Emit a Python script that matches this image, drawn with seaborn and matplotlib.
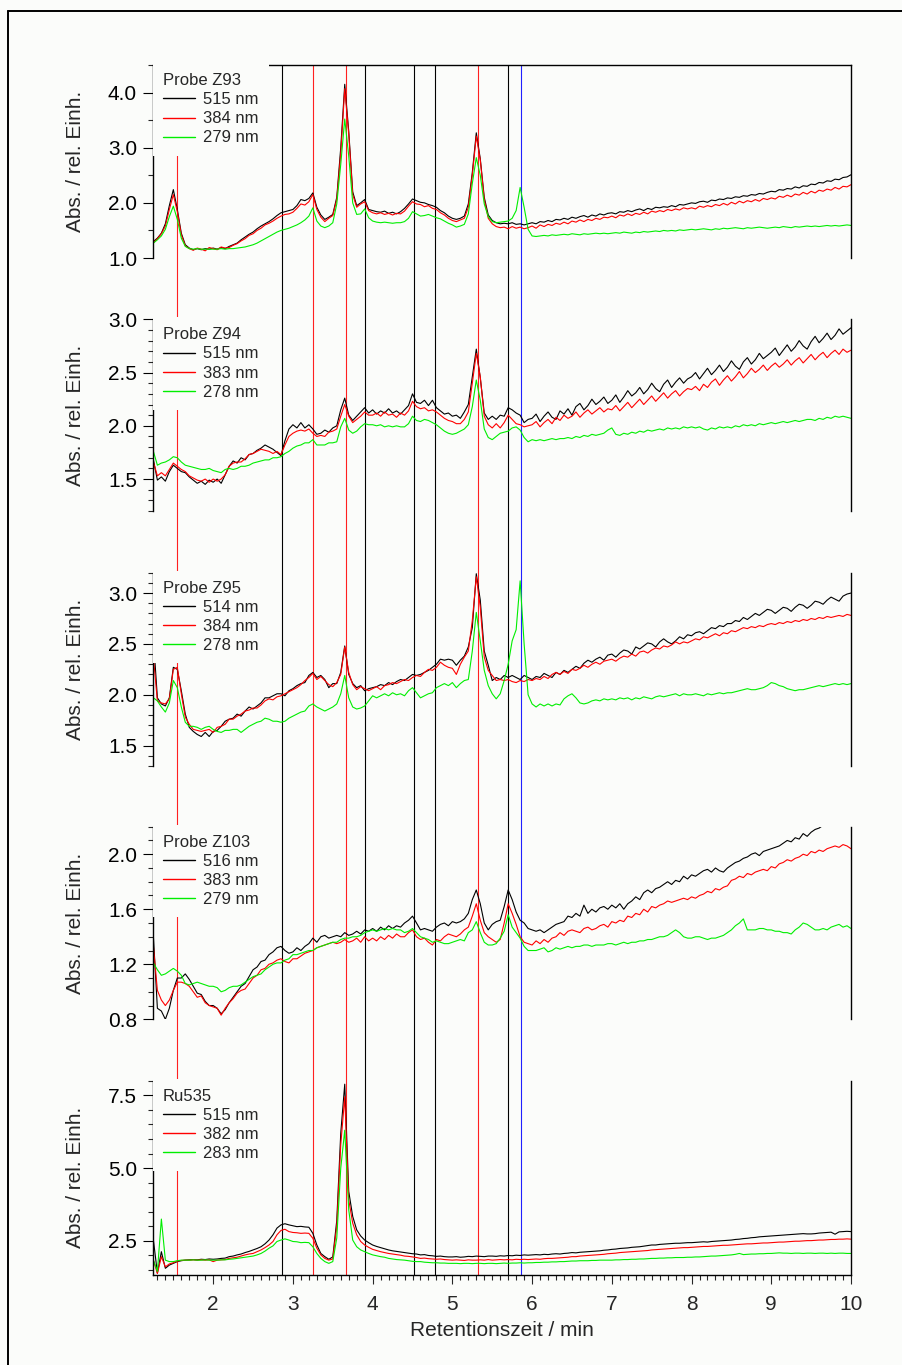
import numpy as np
import matplotlib
matplotlib.use("Agg")
import matplotlib.pyplot as plt
import seaborn as sns
from matplotlib.lines import Line2D
from matplotlib.transforms import blended_transform_factory
from matplotlib.ticker import MultipleLocator, FormatStrFormatter

sns.set_style("ticks")
plt.rcParams["font.family"] = ["Liberation Sans", "DejaVu Sans"]

# ---------------------------------------------------------------- data
# retention time axis, 0.05 min sampling
zeit = np.round(np.arange(1.25, 10.0001, 0.05), 2)

# Probe Z93
z93_515 = [
    1.30, 1.36, 1.45, 1.62, 1.95, 2.24, 1.88, 1.45, 1.24, 1.18, 1.15, 1.17, 1.15, 1.17, 1.16,
    1.18, 1.16, 1.19, 1.17, 1.21, 1.24, 1.27, 1.33, 1.38, 1.43, 1.47, 1.53, 1.58, 1.62, 1.66, 1.71, 1.77, 1.82, 1.84, 1.86,
    1.88, 1.95, 2.06, 2.04, 2.08, 2.18, 1.92, 1.78, 1.70, 1.74, 1.79, 2.10, 3.00, 4.15, 3.30, 2.20, 1.95, 2.00, 2.06, 1.88,
    1.86, 1.84, 1.83, 1.85, 1.81, 1.83, 1.80, 1.84, 1.90, 1.98, 2.07, 2.04, 2.01, 2.00, 1.97, 1.95, 1.92, 1.86, 1.82, 1.76,
    1.72, 1.70, 1.72, 1.76, 1.98, 2.55, 3.27, 2.80, 2.10, 1.78, 1.68, 1.64, 1.62, 1.63, 1.62, 1.64, 1.61, 1.62, 1.60, 1.62,
    1.64, 1.62, 1.66, 1.65, 1.68, 1.66, 1.70, 1.69, 1.72, 1.70, 1.74, 1.72, 1.75, 1.77, 1.74, 1.78, 1.76, 1.80, 1.78, 1.81,
    1.82, 1.80, 1.84, 1.83, 1.86, 1.84, 1.87, 1.89, 1.86, 1.90, 1.88, 1.92, 1.91, 1.93, 1.92, 1.95, 1.93, 1.97, 1.96, 1.98,
    2.00, 1.99, 2.02, 2.03, 2.01, 2.05, 2.04, 2.07, 2.06, 2.09, 2.08, 2.11, 2.10, 2.13, 2.12, 2.15, 2.14, 2.17, 2.16, 2.19,
    2.21, 2.20, 2.24, 2.23, 2.26, 2.25, 2.29, 2.27, 2.31, 2.30, 2.34, 2.33, 2.37, 2.36, 2.40, 2.39, 2.43, 2.42, 2.46, 2.47,
    2.51]
z93_384 = [
    1.28, 1.35, 1.44, 1.58, 1.88, 2.15, 1.84, 1.42, 1.22, 1.17, 1.14, 1.18, 1.16, 1.13, 1.19,
    1.17, 1.15, 1.20, 1.18, 1.19, 1.23, 1.26, 1.31, 1.35, 1.41, 1.44, 1.50, 1.54, 1.60, 1.63, 1.67, 1.72, 1.76, 1.79, 1.80,
    1.83, 1.90, 1.98, 1.96, 2.02, 2.15, 1.88, 1.74, 1.66, 1.72, 1.77, 2.06, 2.90, 4.07, 3.25, 2.15, 1.92, 1.98, 2.02, 1.86,
    1.82, 1.80, 1.82, 1.79, 1.81, 1.78, 1.81, 1.80, 1.85, 1.94, 2.02, 1.98, 1.97, 1.93, 1.95, 1.90, 1.88, 1.82, 1.78, 1.72,
    1.68, 1.66, 1.69, 1.72, 1.92, 2.50, 3.21, 2.78, 2.06, 1.72, 1.62, 1.57, 1.55, 1.56, 1.53, 1.57, 1.54, 1.56, 1.53, 1.55,
    1.58, 1.54, 1.60, 1.57, 1.61, 1.59, 1.63, 1.61, 1.65, 1.62, 1.67, 1.65, 1.69, 1.66, 1.70, 1.68, 1.72, 1.70, 1.74, 1.73,
    1.76, 1.73, 1.78, 1.76, 1.80, 1.77, 1.81, 1.79, 1.83, 1.80, 1.85, 1.83, 1.86, 1.84, 1.88, 1.86, 1.89, 1.87, 1.91, 1.89,
    1.91, 1.89, 1.94, 1.92, 1.95, 1.93, 1.97, 1.95, 1.99, 1.96, 2.01, 1.98, 2.03, 2.00, 2.04, 2.02, 2.06, 2.03, 2.08, 2.06,
    2.09, 2.07, 2.12, 2.10, 2.14, 2.11, 2.16, 2.14, 2.19, 2.16, 2.21, 2.18, 2.23, 2.21, 2.25, 2.23, 2.28, 2.25, 2.30, 2.29,
    2.33]
z93_279 = [
    1.27, 1.33, 1.40, 1.52, 1.75, 1.94, 1.70, 1.36, 1.21, 1.17, 1.16, 1.17, 1.16, 1.16, 1.16,
    1.16, 1.16, 1.17, 1.16, 1.17, 1.17, 1.18, 1.19, 1.20, 1.22, 1.24, 1.27, 1.31, 1.35, 1.39, 1.43, 1.47, 1.50, 1.52, 1.54,
    1.57, 1.60, 1.64, 1.69, 1.76, 1.91, 1.67, 1.58, 1.55, 1.58, 1.64, 1.98, 2.70, 3.52, 2.85, 2.00, 1.79, 1.80, 1.89, 1.73,
    1.67, 1.65, 1.64, 1.65, 1.64, 1.63, 1.64, 1.64, 1.66, 1.72, 1.84, 1.80, 1.76, 1.77, 1.79, 1.76, 1.73, 1.71, 1.67, 1.63,
    1.60, 1.56, 1.58, 1.61, 1.80, 2.35, 2.82, 2.50, 1.98, 1.75, 1.66, 1.64, 1.65, 1.66, 1.67, 1.72, 1.86, 2.28, 1.92, 1.52,
    1.40, 1.39, 1.40, 1.41, 1.40, 1.42, 1.41, 1.42, 1.43, 1.42, 1.44, 1.43, 1.42, 1.44, 1.43, 1.44, 1.45, 1.44, 1.45, 1.44,
    1.45, 1.46, 1.45, 1.47, 1.46, 1.45, 1.47, 1.46, 1.48, 1.47, 1.48, 1.49, 1.48, 1.50, 1.49, 1.50, 1.49, 1.51, 1.50, 1.51,
    1.52, 1.51, 1.52, 1.53, 1.52, 1.51, 1.53, 1.52, 1.54, 1.53, 1.54, 1.55, 1.54, 1.53, 1.55, 1.54, 1.55, 1.56, 1.55, 1.54,
    1.55, 1.56, 1.55, 1.57, 1.56, 1.55, 1.57, 1.56, 1.57, 1.58, 1.57, 1.58, 1.57, 1.58, 1.59, 1.58, 1.59, 1.58, 1.59, 1.60,
    1.59]

# Probe Z94
z94_515 = [
    1.68, 1.49, 1.52, 1.48, 1.57, 1.63, 1.60, 1.57, 1.56, 1.52, 1.49, 1.46, 1.48, 1.45, 1.49,
    1.47, 1.50, 1.46, 1.54, 1.62, 1.67, 1.65, 1.70, 1.68, 1.73, 1.74, 1.77, 1.79, 1.82, 1.80, 1.78, 1.75, 1.72, 1.86, 1.97,
    2.01, 1.98, 2.03, 1.98, 2.01, 1.97, 1.92, 1.93, 1.96, 1.94, 1.98, 2.00, 2.15, 2.26, 2.10, 2.05, 2.09, 2.13, 2.17, 2.12,
    2.15, 2.11, 2.14, 2.12, 2.16, 2.12, 2.14, 2.11, 2.15, 2.19, 2.30, 2.22, 2.21, 2.24, 2.19, 2.24, 2.17, 2.14, 2.11, 2.12,
    2.09, 2.10, 2.07, 2.13, 2.20, 2.46, 2.72, 2.45, 2.12, 2.06, 2.09, 2.06, 2.10, 2.09, 2.17, 2.15, 2.12, 2.10, 2.03, 2.06,
    2.07, 2.11, 2.04, 2.09, 2.13, 2.08, 2.06, 2.14, 2.11, 2.16, 2.10, 2.18, 2.21, 2.15, 2.19, 2.25, 2.20, 2.23, 2.27, 2.21,
    2.24, 2.29, 2.22, 2.27, 2.33, 2.28, 2.31, 2.36, 2.30, 2.34, 2.40, 2.35, 2.32, 2.39, 2.43, 2.36, 2.41, 2.45, 2.40, 2.44,
    2.46, 2.50, 2.44, 2.49, 2.54, 2.48, 2.52, 2.57, 2.51, 2.55, 2.61, 2.56, 2.53, 2.60, 2.64, 2.58, 2.62, 2.68, 2.63, 2.66,
    2.69, 2.73, 2.66, 2.71, 2.76, 2.70, 2.74, 2.80, 2.75, 2.72, 2.79, 2.84, 2.78, 2.82, 2.87, 2.81, 2.85, 2.91, 2.86, 2.89,
    2.92]
z94_383 = [
    1.66, 1.53, 1.56, 1.53, 1.59, 1.65, 1.62, 1.59, 1.57, 1.53, 1.51, 1.49, 1.48, 1.50, 1.47,
    1.50, 1.48, 1.50, 1.54, 1.62, 1.65, 1.66, 1.66, 1.69, 1.73, 1.74, 1.76, 1.78, 1.77, 1.76, 1.74, 1.76, 1.73, 1.82, 1.90,
    1.93, 1.95, 1.96, 1.95, 1.97, 1.93, 1.90, 1.91, 1.90, 1.94, 1.95, 1.97, 2.09, 2.20, 2.09, 2.03, 2.06, 2.09, 2.13, 2.10,
    2.10, 2.12, 2.09, 2.13, 2.10, 2.11, 2.08, 2.12, 2.10, 2.14, 2.23, 2.18, 2.16, 2.17, 2.14, 2.15, 2.13, 2.10, 2.07, 2.05,
    2.04, 2.02, 2.02, 2.06, 2.13, 2.40, 2.68, 2.46, 2.09, 2.01, 1.98, 2.02, 1.98, 2.03, 2.10, 2.06, 2.02, 2.01, 1.99, 2.00,
    2.01, 2.04, 1.99, 2.03, 2.06, 2.02, 2.08, 2.05, 2.10, 2.07, 2.09, 2.13, 2.08, 2.12, 2.15, 2.11, 2.14, 2.17, 2.13, 2.16,
    2.15, 2.19, 2.14, 2.18, 2.22, 2.17, 2.21, 2.25, 2.20, 2.24, 2.28, 2.23, 2.27, 2.31, 2.26, 2.30, 2.33, 2.28, 2.32, 2.35,
    2.34, 2.37, 2.33, 2.39, 2.36, 2.41, 2.44, 2.38, 2.43, 2.47, 2.42, 2.46, 2.51, 2.45, 2.49, 2.54, 2.50, 2.53, 2.57, 2.52,
    2.56, 2.59, 2.55, 2.58, 2.62, 2.57, 2.61, 2.64, 2.59, 2.63, 2.67, 2.62, 2.66, 2.69, 2.64, 2.68, 2.71, 2.67, 2.72, 2.69,
    2.71]
z94_278 = [
    1.76, 1.63, 1.65, 1.66, 1.68, 1.71, 1.70, 1.66, 1.63, 1.62, 1.61, 1.60, 1.59, 1.59, 1.60,
    1.58, 1.57, 1.56, 1.59, 1.60, 1.59, 1.60, 1.62, 1.62, 1.63, 1.65, 1.66, 1.67, 1.68, 1.68, 1.70, 1.70, 1.71, 1.74, 1.76,
    1.79, 1.81, 1.82, 1.84, 1.84, 1.87, 1.82, 1.82, 1.82, 1.84, 1.84, 1.85, 1.99, 2.07, 1.96, 1.93, 1.95, 1.99, 2.02, 2.01,
    2.01, 2.00, 2.01, 1.99, 2.00, 1.99, 2.00, 1.99, 1.99, 2.02, 2.09, 2.05, 2.04, 2.06, 2.05, 2.03, 2.01, 1.98, 1.95, 1.93,
    1.92, 1.93, 1.95, 1.97, 2.01, 2.18, 2.43, 2.24, 1.97, 1.89, 1.87, 1.90, 1.93, 1.94, 1.95, 1.98, 1.99, 1.96, 1.89, 1.85,
    1.87, 1.86, 1.87, 1.86, 1.87, 1.88, 1.87, 1.88, 1.88, 1.89, 1.88, 1.90, 1.89, 1.91, 1.90, 1.92, 1.91, 1.92, 1.93, 1.96,
    1.98, 1.92, 1.91, 1.93, 1.92, 1.94, 1.93, 1.95, 1.94, 1.96, 1.95, 1.96, 1.97, 1.96, 1.98, 1.97, 1.98, 1.97, 1.99, 1.98,
    1.99, 1.98, 1.99, 1.97, 1.96, 1.98, 1.97, 1.99, 1.98, 1.99, 1.98, 2.00, 1.99, 2.01, 2.00, 2.01, 2.00, 2.02, 2.01, 2.02,
    2.03, 2.02, 2.03, 2.04, 2.03, 2.04, 2.05, 2.04, 2.05, 2.06, 2.06, 2.05, 2.07, 2.06, 2.08, 2.07, 2.09, 2.08, 2.09, 2.08,
    2.07]

# Probe Z95
z95_514 = [
    2.55, 1.97, 1.91, 1.89, 1.97, 2.27, 2.25, 2.04, 1.81, 1.68, 1.64, 1.61, 1.59, 1.63, 1.59,
    1.64, 1.65, 1.69, 1.74, 1.76, 1.77, 1.81, 1.79, 1.84, 1.88, 1.86, 1.89, 1.92, 1.97, 1.97, 1.99, 2.01, 2.01, 1.99, 2.04,
    2.06, 2.09, 2.11, 2.12, 2.19, 2.22, 2.17, 2.19, 2.15, 2.07, 2.11, 2.11, 2.22, 2.48, 2.20, 2.11, 2.07, 2.09, 2.04, 2.06,
    2.07, 2.08, 2.10, 2.09, 2.12, 2.10, 2.13, 2.15, 2.14, 2.17, 2.20, 2.19, 2.20, 2.22, 2.24, 2.27, 2.30, 2.35, 2.34, 2.35,
    2.34, 2.29, 2.34, 2.38, 2.47, 2.66, 3.19, 2.93, 2.43, 2.29, 2.14, 2.17, 2.15, 2.19, 2.17, 2.19, 2.17, 2.15, 2.19, 2.17,
    2.15, 2.18, 2.17, 2.21, 2.19, 2.17, 2.22, 2.20, 2.24, 2.22, 2.25, 2.28, 2.26, 2.31, 2.34, 2.32, 2.35, 2.37, 2.34, 2.39,
    2.40, 2.37, 2.41, 2.44, 2.43, 2.40, 2.47, 2.45, 2.48, 2.51, 2.50, 2.47, 2.52, 2.55, 2.52, 2.50, 2.53, 2.57, 2.55, 2.59,
    2.58, 2.61, 2.62, 2.60, 2.63, 2.66, 2.65, 2.68, 2.67, 2.70, 2.70, 2.73, 2.72, 2.76, 2.74, 2.77, 2.80, 2.78, 2.81, 2.84,
    2.83, 2.80, 2.83, 2.86, 2.85, 2.82, 2.86, 2.89, 2.88, 2.85, 2.88, 2.92, 2.91, 2.89, 2.93, 2.96, 2.94, 2.92, 2.97, 2.99,
    3.00]
z95_384 = [
    2.37, 1.94, 1.92, 1.91, 1.96, 2.25, 2.27, 2.01, 1.78, 1.71, 1.66, 1.65, 1.64, 1.65, 1.66,
    1.63, 1.68, 1.69, 1.71, 1.76, 1.76, 1.79, 1.81, 1.84, 1.85, 1.87, 1.87, 1.90, 1.94, 1.96, 1.95, 1.98, 1.99, 2.01, 2.03,
    2.05, 2.07, 2.10, 2.14, 2.17, 2.21, 2.15, 2.18, 2.14, 2.10, 2.08, 2.12, 2.20, 2.47, 2.22, 2.10, 2.05, 2.08, 2.06, 2.04,
    2.06, 2.08, 2.05, 2.09, 2.10, 2.12, 2.11, 2.13, 2.15, 2.14, 2.17, 2.19, 2.18, 2.22, 2.25, 2.24, 2.27, 2.32, 2.29, 2.27,
    2.26, 2.20, 2.30, 2.37, 2.43, 2.73, 3.16, 2.86, 2.37, 2.24, 2.19, 2.14, 2.15, 2.14, 2.15, 2.13, 2.12, 2.14, 2.13, 2.15,
    2.14, 2.16, 2.15, 2.18, 2.16, 2.20, 2.22, 2.20, 2.23, 2.21, 2.25, 2.24, 2.26, 2.29, 2.27, 2.30, 2.32, 2.30, 2.33, 2.34,
    2.35, 2.33, 2.36, 2.38, 2.37, 2.40, 2.38, 2.42, 2.43, 2.41, 2.44, 2.46, 2.45, 2.48, 2.47, 2.49, 2.52, 2.50, 2.52, 2.51,
    2.53, 2.55, 2.54, 2.57, 2.56, 2.58, 2.60, 2.58, 2.61, 2.60, 2.63, 2.62, 2.64, 2.66, 2.65, 2.67, 2.66, 2.68, 2.67, 2.69,
    2.70, 2.69, 2.71, 2.70, 2.72, 2.71, 2.73, 2.72, 2.74, 2.73, 2.75, 2.74, 2.76, 2.75, 2.77, 2.76, 2.77, 2.78, 2.77, 2.79,
    2.78]
z95_278 = [
    1.97, 1.94, 1.88, 1.83, 1.92, 2.14, 2.07, 1.88, 1.73, 1.69, 1.69, 1.68, 1.66, 1.68, 1.69,
    1.66, 1.64, 1.63, 1.65, 1.65, 1.66, 1.66, 1.63, 1.66, 1.69, 1.71, 1.73, 1.74, 1.77, 1.76, 1.74, 1.74, 1.73, 1.74, 1.77,
    1.79, 1.81, 1.83, 1.84, 1.89, 1.91, 1.88, 1.86, 1.84, 1.86, 1.88, 1.91, 2.01, 2.19, 1.97, 1.88, 1.86, 1.87, 1.89, 1.94,
    1.99, 1.97, 1.99, 2.01, 1.99, 2.02, 2.00, 2.01, 1.99, 2.04, 2.07, 2.02, 1.97, 1.99, 2.01, 2.02, 2.07, 2.09, 2.11, 2.09,
    2.12, 2.07, 2.11, 2.14, 2.15, 2.43, 2.81, 2.53, 2.24, 2.09, 2.01, 1.96, 2.01, 2.14, 2.30, 2.53, 2.64, 3.12, 2.50, 2.00,
    1.91, 1.88, 1.91, 1.89, 1.91, 1.89, 1.91, 1.90, 1.96, 1.99, 2.01, 1.97, 1.92, 1.91, 1.92, 1.94, 1.95, 1.94, 1.96, 1.95,
    1.96, 1.95, 1.97, 1.96, 1.97, 1.95, 1.97, 1.96, 1.98, 1.97, 1.96, 1.98, 1.99, 1.98, 1.99, 2.00, 2.01, 1.99, 2.01, 2.00,
    2.00, 2.01, 2.00, 1.99, 2.01, 2.00, 2.01, 2.02, 2.01, 2.02, 2.02, 2.03, 2.04, 2.05, 2.06, 2.05, 2.05, 2.06, 2.07, 2.09,
    2.12, 2.11, 2.09, 2.08, 2.06, 2.05, 2.04, 2.05, 2.05, 2.06, 2.07, 2.08, 2.09, 2.08, 2.09, 2.10, 2.11, 2.10, 2.11, 2.10,
    2.11]

# Probe Z103
z103_516 = [
    1.40, 0.88, 0.86, 0.80, 0.88, 1.01, 1.10, 1.10, 1.13, 1.09, 1.04, 0.99, 0.98, 0.93, 0.90,
    0.90, 0.88, 0.84, 0.87, 0.92, 0.96, 1.00, 1.04, 1.06, 1.11, 1.16, 1.18, 1.22, 1.23, 1.27, 1.29, 1.32, 1.33, 1.30, 1.28,
    1.29, 1.32, 1.30, 1.33, 1.35, 1.39, 1.36, 1.40, 1.41, 1.39, 1.40, 1.41, 1.40, 1.43, 1.41, 1.42, 1.44, 1.42, 1.45, 1.44,
    1.46, 1.44, 1.47, 1.45, 1.48, 1.46, 1.48, 1.47, 1.50, 1.52, 1.55, 1.50, 1.45, 1.46, 1.45, 1.44, 1.47, 1.49, 1.50, 1.48,
    1.51, 1.50, 1.51, 1.53, 1.57, 1.67, 1.74, 1.64, 1.50, 1.45, 1.49, 1.51, 1.52, 1.62, 1.74, 1.67, 1.58, 1.52, 1.50, 1.46,
    1.45, 1.44, 1.45, 1.43, 1.45, 1.47, 1.49, 1.50, 1.51, 1.55, 1.54, 1.57, 1.55, 1.63, 1.57, 1.60, 1.58, 1.61, 1.62, 1.60,
    1.63, 1.61, 1.64, 1.60, 1.64, 1.66, 1.69, 1.67, 1.72, 1.74, 1.72, 1.75, 1.76, 1.78, 1.80, 1.78, 1.81, 1.80, 1.84, 1.82,
    1.85, 1.84, 1.86, 1.88, 1.89, 1.87, 1.90, 1.88, 1.87, 1.90, 1.92, 1.94, 1.95, 1.97, 1.98, 2.00, 2.01, 1.99, 2.02, 2.03,
    2.04, 2.05, 2.06, 2.08, 2.10, 2.09, 2.12, 2.11, 2.15, 2.13, 2.16, 2.18, 2.19, 2.21, 2.24, 2.25, 2.26, 2.27, 2.28, 2.29,
    2.30]
z103_383 = [
    1.33, 1.01, 0.94, 0.90, 0.94, 1.01, 1.07, 1.07, 1.06, 1.04, 1.00, 0.96, 0.97, 0.92, 0.90,
    0.89, 0.88, 0.83, 0.88, 0.92, 0.95, 0.99, 1.01, 1.02, 1.06, 1.10, 1.12, 1.16, 1.17, 1.20, 1.21, 1.23, 1.24, 1.22, 1.21,
    1.24, 1.24, 1.26, 1.28, 1.29, 1.30, 1.32, 1.33, 1.34, 1.35, 1.36, 1.35, 1.36, 1.38, 1.36, 1.37, 1.39, 1.36, 1.40, 1.37,
    1.39, 1.37, 1.40, 1.38, 1.41, 1.39, 1.42, 1.40, 1.40, 1.43, 1.45, 1.40, 1.38, 1.39, 1.36, 1.34, 1.38, 1.37, 1.40, 1.42,
    1.41, 1.40, 1.42, 1.45, 1.47, 1.55, 1.64, 1.52, 1.43, 1.40, 1.38, 1.36, 1.38, 1.50, 1.64, 1.57, 1.49, 1.40, 1.36, 1.35,
    1.34, 1.37, 1.35, 1.38, 1.36, 1.39, 1.40, 1.43, 1.41, 1.44, 1.45, 1.44, 1.43, 1.46, 1.47, 1.45, 1.46, 1.48, 1.49, 1.47,
    1.51, 1.50, 1.52, 1.51, 1.55, 1.54, 1.57, 1.56, 1.60, 1.58, 1.62, 1.61, 1.63, 1.64, 1.66, 1.65, 1.66, 1.67, 1.68, 1.67,
    1.69, 1.68, 1.70, 1.71, 1.73, 1.72, 1.75, 1.74, 1.76, 1.77, 1.81, 1.82, 1.84, 1.83, 1.86, 1.85, 1.87, 1.88, 1.89, 1.88,
    1.91, 1.90, 1.93, 1.94, 1.96, 1.95, 1.97, 1.98, 2.00, 1.99, 2.02, 2.01, 2.03, 2.02, 2.04, 2.05, 2.06, 2.05, 2.07, 2.06,
    2.04]
z103_279 = [
    1.21, 1.16, 1.12, 1.13, 1.15, 1.17, 1.15, 1.12, 1.06, 1.05, 1.06, 1.07, 1.06, 1.05, 1.04,
    1.04, 1.03, 1.00, 1.01, 1.03, 1.04, 1.04, 1.05, 1.07, 1.09, 1.11, 1.12, 1.13, 1.16, 1.18, 1.20, 1.21, 1.21, 1.23, 1.24,
    1.27, 1.27, 1.28, 1.29, 1.30, 1.30, 1.32, 1.33, 1.34, 1.35, 1.36, 1.36, 1.38, 1.39, 1.39, 1.40, 1.40, 1.41, 1.43, 1.44,
    1.45, 1.44, 1.45, 1.46, 1.45, 1.46, 1.45, 1.45, 1.43, 1.44, 1.46, 1.43, 1.40, 1.39, 1.38, 1.36, 1.37, 1.36, 1.35, 1.35,
    1.36, 1.37, 1.38, 1.37, 1.43, 1.45, 1.51, 1.43, 1.36, 1.34, 1.34, 1.35, 1.39, 1.44, 1.56, 1.47, 1.43, 1.39, 1.33, 1.30,
    1.30, 1.30, 1.31, 1.32, 1.29, 1.30, 1.32, 1.31, 1.32, 1.33, 1.32, 1.33, 1.33, 1.34, 1.34, 1.33, 1.34, 1.34, 1.34, 1.35,
    1.35, 1.34, 1.35, 1.36, 1.35, 1.36, 1.36, 1.37, 1.37, 1.38, 1.38, 1.39, 1.40, 1.40, 1.41, 1.43, 1.45, 1.43, 1.40, 1.39,
    1.39, 1.40, 1.40, 1.39, 1.38, 1.39, 1.39, 1.40, 1.41, 1.43, 1.45, 1.48, 1.50, 1.53, 1.45, 1.45, 1.45, 1.46, 1.46, 1.45,
    1.45, 1.44, 1.44, 1.43, 1.43, 1.42, 1.45, 1.47, 1.50, 1.49, 1.47, 1.45, 1.45, 1.46, 1.45, 1.47, 1.48, 1.49, 1.47, 1.48,
    1.46]

# Ru535
ru535_515 = [
    2.53, 1.40, 2.13, 1.56, 1.67, 1.73, 1.79, 1.82, 1.84, 1.85, 1.86, 1.85, 1.87, 1.86, 1.88,
    1.87, 1.88, 1.90, 1.91, 1.96, 1.98, 2.02, 2.05, 2.10, 2.14, 2.19, 2.24, 2.30, 2.40, 2.53, 2.71, 2.94, 3.05, 3.09, 3.05,
    3.02, 2.99, 3.00, 2.98, 2.97, 2.76, 2.36, 2.07, 1.96, 1.87, 1.95, 3.20, 6.20, 7.88, 4.20, 3.34, 2.88, 2.67, 2.53, 2.44,
    2.36, 2.31, 2.27, 2.23, 2.19, 2.16, 2.14, 2.12, 2.10, 2.08, 2.06, 2.05, 2.02, 2.03, 2.00, 1.99, 1.97, 1.98, 1.96, 1.95,
    1.95, 1.96, 1.94, 1.95, 1.97, 1.96, 1.98, 1.97, 1.96, 1.98, 1.98, 1.97, 1.99, 1.98, 2.00, 1.99, 2.01, 2.00, 2.02, 2.01,
    2.02, 2.03, 2.02, 2.04, 2.03, 2.05, 2.06, 2.05, 2.07, 2.08, 2.10, 2.09, 2.11, 2.12, 2.13, 2.14, 2.15, 2.16, 2.18, 2.19,
    2.21, 2.22, 2.24, 2.25, 2.26, 2.28, 2.29, 2.30, 2.32, 2.34, 2.36, 2.36, 2.38, 2.39, 2.40, 2.41, 2.42, 2.42, 2.43, 2.44,
    2.44, 2.45, 2.46, 2.47, 2.46, 2.48, 2.49, 2.50, 2.51, 2.52, 2.53, 2.55, 2.56, 2.58, 2.59, 2.61, 2.62, 2.64, 2.65, 2.66,
    2.67, 2.68, 2.69, 2.70, 2.71, 2.72, 2.73, 2.74, 2.75, 2.74, 2.74, 2.75, 2.77, 2.78, 2.79, 2.80, 2.73, 2.81, 2.82, 2.83,
    2.82]
ru535_382 = [
    1.84, 1.38, 1.96, 1.61, 1.71, 1.75, 1.81, 1.83, 1.84, 1.84, 1.85, 1.84, 1.85, 1.84, 1.85,
    1.79, 1.84, 1.85, 1.86, 1.90, 1.92, 1.94, 1.98, 2.02, 2.05, 2.07, 2.13, 2.19, 2.27, 2.36, 2.48, 2.71, 2.86, 2.90, 2.82,
    2.79, 2.78, 2.76, 2.77, 2.76, 2.59, 2.25, 2.02, 1.90, 1.84, 1.88, 3.00, 5.80, 7.45, 3.91, 3.11, 2.71, 2.48, 2.36, 2.28,
    2.21, 2.17, 2.13, 2.10, 2.07, 2.05, 2.03, 2.01, 1.98, 1.97, 1.95, 1.93, 1.90, 1.91, 1.89, 1.88, 1.87, 1.88, 1.86, 1.85,
    1.84, 1.85, 1.84, 1.83, 1.85, 1.84, 1.84, 1.85, 1.84, 1.86, 1.84, 1.85, 1.86, 1.85, 1.86, 1.85, 1.87, 1.86, 1.87, 1.86,
    1.87, 1.88, 1.87, 1.89, 1.90, 1.90, 1.91, 1.92, 1.93, 1.94, 1.96, 1.96, 1.98, 1.99, 2.00, 2.01, 2.02, 2.03, 2.04, 2.06,
    2.07, 2.08, 2.10, 2.11, 2.12, 2.13, 2.14, 2.15, 2.16, 2.17, 2.19, 2.20, 2.21, 2.22, 2.23, 2.24, 2.25, 2.26, 2.27, 2.27,
    2.28, 2.29, 2.30, 2.31, 2.31, 2.32, 2.33, 2.34, 2.35, 2.35, 2.36, 2.37, 2.38, 2.39, 2.40, 2.40, 2.41, 2.42, 2.43, 2.43,
    2.44, 2.45, 2.46, 2.46, 2.47, 2.48, 2.49, 2.49, 2.50, 2.51, 2.51, 2.52, 2.53, 2.53, 2.54, 2.55, 2.55, 2.56, 2.56, 2.57,
    2.56]
ru535_283 = [
    1.84, 1.45, 3.25, 1.84, 1.79, 1.79, 1.82, 1.84, 1.84, 1.84, 1.85, 1.84, 1.84, 1.85, 1.84,
    1.84, 1.84, 1.85, 1.85, 1.87, 1.88, 1.90, 1.92, 1.94, 1.96, 1.98, 2.02, 2.07, 2.15, 2.25, 2.33, 2.48, 2.53, 2.57, 2.53,
    2.48, 2.47, 2.44, 2.45, 2.44, 2.30, 2.07, 1.90, 1.79, 1.73, 1.79, 2.60, 5.00, 6.30, 3.57, 2.53, 2.30, 2.19, 2.13, 2.07,
    2.02, 1.99, 1.96, 1.94, 1.90, 1.88, 1.86, 1.85, 1.84, 1.82, 1.80, 1.79, 1.79, 1.77, 1.76, 1.75, 1.75, 1.74, 1.74, 1.73,
    1.73, 1.73, 1.72, 1.73, 1.73, 1.72, 1.73, 1.73, 1.72, 1.73, 1.73, 1.72, 1.73, 1.74, 1.73, 1.74, 1.74, 1.75, 1.74, 1.75,
    1.75, 1.76, 1.76, 1.77, 1.77, 1.78, 1.78, 1.79, 1.79, 1.80, 1.81, 1.81, 1.82, 1.82, 1.82, 1.83, 1.83, 1.84, 1.84, 1.84,
    1.84, 1.85, 1.85, 1.86, 1.86, 1.87, 1.87, 1.88, 1.88, 1.89, 1.90, 1.90, 1.91, 1.91, 1.92, 1.92, 1.93, 1.93, 1.93, 1.94,
    1.94, 1.95, 1.95, 1.96, 1.97, 1.98, 1.98, 1.99, 2.00, 2.01, 2.02, 2.04, 2.07, 2.03, 2.04, 2.05, 2.05, 2.06, 2.06, 2.07,
    2.07, 2.08, 2.09, 2.08, 2.08, 2.07, 2.08, 2.08, 2.07, 2.08, 2.08, 2.07, 2.08, 2.08, 2.07, 2.08, 2.07, 2.08, 2.08, 2.07,
    2.07]

probe_titel = ["Probe Z93", "Probe Z94", "Probe Z95", "Probe Z103", "Ru535"]
wellenlaengen = [
    ["515 nm", "384 nm", "279 nm"],
    ["515 nm", "383 nm", "278 nm"],
    ["514 nm", "384 nm", "278 nm"],
    ["516 nm", "383 nm", "279 nm"],
    ["515 nm", "382 nm", "283 nm"],
]
spuren = [
    [z93_515, z93_384, z93_279],
    [z94_515, z94_383, z94_278],
    [z95_514, z95_384, z95_278],
    [z103_516, z103_383, z103_279],
    [ru535_515, ru535_382, ru535_283],
]
y_bereiche = [(1.0, 4.5), (1.2, 3.0), (1.3, 3.2), (0.8, 2.2), (1.33, 8.0)]
y_haupt = [1.0, 0.5, 0.5, 0.4, 2.5]
y_neben = [0.5, 0.1, 0.1, 0.1, 0.5]

# retention times of the marked peaks
marker_schwarz = [2.86, 3.90, 4.52, 4.78, 5.70]
marker_rot = [1.54, 3.25, 3.67, 5.32]
marker_blau = [5.86]

# ---------------------------------------------------------------- layout
BG = "#fbfcfa"
FARBEN = ["#000000", "#ff0000", "#00ee00"]
W, H = 903, 1365
LEFT, RIGHT = 153, 851
TOPS = [65, 319.3, 572.7, 826.7, 1080.7]
BOTTOMS = [258, 511, 766, 1019.3, 1275]

fig = plt.figure(figsize=(W / 100, H / 100), dpi=100, facecolor=BG)

axes = []
for i in range(5):
    h_px = BOTTOMS[i] - TOPS[i]
    ax = fig.add_axes([LEFT / W, 1 - BOTTOMS[i] / H, (RIGHT - LEFT) / W, h_px / H])
    ax.set_facecolor("none")
    for werte, farbe, lab in zip(spuren[i], FARBEN, wellenlaengen[i]):
        sns.lineplot(x=zeit, y=np.asarray(werte), ax=ax, color=farbe,
                     linewidth=0.8, label=lab, estimator=None)
    ax.set_xlim(1.245, 10.0)
    ax.set_ylim(*y_bereiche[i])

    for name, sp in ax.spines.items():
        sp.set_linewidth(1.0)
        sp.set_color("black")
    ax.spines["top"].set_visible(i == 0)
    ax.spines["bottom"].set_visible(i == 4)
    ax.spines["right"].set_visible(True)

    ax.yaxis.set_major_locator(MultipleLocator(y_haupt[i]))
    ax.yaxis.set_minor_locator(MultipleLocator(y_neben[i]))
    ax.yaxis.set_major_formatter(FormatStrFormatter("%.1f"))
    ax.tick_params(axis="y", which="major", direction="out", length=7.2,
                   width=0.8, labelsize=15, pad=4.3, right=False, colors="black")
    ax.tick_params(axis="y", which="minor", direction="out", length=3.6,
                   width=0.8, right=False)

    if i < 4:
        ax.tick_params(axis="x", which="both", bottom=False, top=False,
                       labelbottom=False)
        ax.set_xlabel("")
    else:
        ax.xaxis.set_major_locator(MultipleLocator(1.0))
        ax.xaxis.set_minor_locator(MultipleLocator(0.1))
        ax.tick_params(axis="x", which="major", direction="out", length=6.5,
                       width=0.8, labelsize=15, pad=8, top=False)
        ax.tick_params(axis="x", which="minor", direction="out", length=3.6,
                       width=0.8, top=False)
        ax.set_xlabel("Retentionszeit / min", fontsize=15)
        ax.xaxis.set_label_coords(0.5, -0.235)

    ax.set_ylabel("Abs. / rel. Einh.", fontsize=15)
    ax.yaxis.set_label_coords(-0.097, 0.5)

    leg = ax.legend(title=probe_titel[i], loc="upper left",
                    bbox_to_anchor=(0.0, 1 + 2 / h_px), borderaxespad=0,
                    frameon=True, fancybox=False, facecolor=BG,
                    edgecolor="none", framealpha=1, fontsize=12,
                    title_fontsize=12, handlelength=1.9, handletextpad=0.5,
                    labelspacing=0.25, borderpad=0.6, alignment="left")
    for ln in leg.get_lines():
        ln.set_linewidth(1.0)
    axes.append(ax)

# peak markers running through all five panels
trans = blended_transform_factory(axes[-1].transData, fig.transFigure)
y_unten = 1 - BOTTOMS[-1] / H
y_oben = 1 - TOPS[0] / H
for liste, farbe in [(marker_schwarz, "#000000"), (marker_rot, "#ff2020"),
                     (marker_blau, "#2020ff")]:
    for xm in liste:
        fig.add_artist(Line2D([xm, xm], [y_unten, y_oben], transform=trans,
                              color=farbe, linewidth=0.8, zorder=-1))

# outer frame
fig.add_artist(Line2D([8 / W, 8 / W], [0, 1 - 11 / H], transform=fig.transFigure,
                      color="black", linewidth=1.4))
fig.add_artist(Line2D([8 / W, 1], [1 - 11 / H, 1 - 11 / H], transform=fig.transFigure,
                      color="black", linewidth=1.4))

fig.savefig("out.png", dpi=100, facecolor=BG)
